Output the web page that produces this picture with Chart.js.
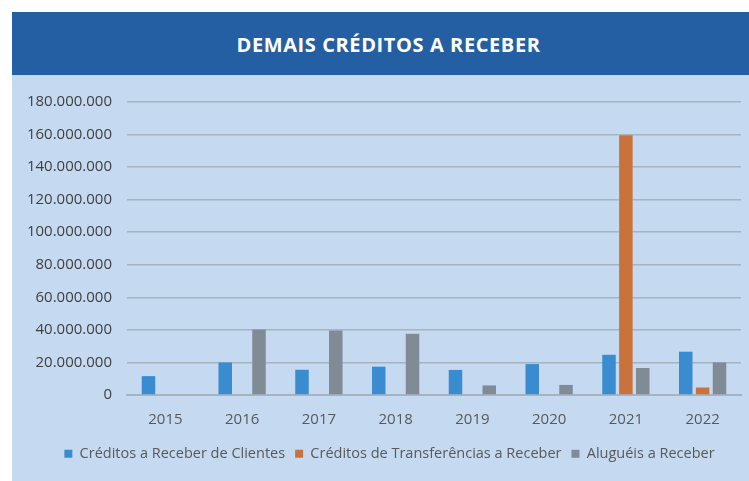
<!DOCTYPE html>
<html>
<head>
<meta charset="utf-8">
<script src="https://cdn.jsdelivr.net/npm/chart.js@4"></script>
<style>
    body { margin: 0; background: #ffffff; }
    #box { position: absolute; left: 12px; top: 12px; width: 737px; height: 469px; background: #c5d9f1; }
    #header { height: 63px; background: #245fa3; color: #ffffff; font-family: "Open Sans", sans-serif;
              font-weight: bold; font-size: 20px; letter-spacing: 0.6px; text-align: center; line-height: 66px;
              padding-left: 16px; }
    #wrap { position: relative; width: 737px; height: 406px; }
</style>
</head>
<body>
<div id="box">
    <div id="header">DEMAIS CRÉDITOS A RECEBER</div>
    <div id="wrap"><canvas id="chart"></canvas></div>
</div>
<script>
const years = ['2015', '2016', '2017', '2018', '2019', '2020', '2021', '2022'];
const clientes = [11600000, 20000000, 15500000, 17400000, 15400000, 19000000, 24700000, 26600000];
const transferencias = [0, 0, 0, 0, 0, 0, 159500000, 4600000];
const alugueis = [0, 40200000, 39700000, 37600000, 5900000, 6200000, 16600000, 20000000];

// brazilian thousands separator
function formatTick(value) {
    return String(value).replace(/\B(?=(\d{3})+(?!\d))/g, '.');
}

var font = { family: '"Open Sans", sans-serif', size: 15 };

// legend sits a bit right of the centre in the original
const shiftLegend = {
    id: 'shiftLegend',
    afterLayout(chart) {
        if (chart.legend) {
            chart.legend.left += 13;
            chart.legend.right += 13;
        }
    }
};

var chart = new Chart(
    document.getElementById('chart'),
    {
        type: 'bar',
        data: {
            labels: years,
            datasets: [
                { label: 'Créditos a Receber de Clientes', data: clientes, backgroundColor: '#3a8cd0' },
                { label: 'Créditos de Transferências a Receber', data: transferencias, backgroundColor: '#c9723c' },
                { label: 'Aluguéis a Receber', data: alugueis, backgroundColor: '#808b96' }
            ]
        },
        options: {
            maintainAspectRatio: false,
            animation: false,
            categoryPercentage: 0.66,
            barPercentage: 0.8,
            layout: { padding: { top: 27, right: 8, bottom: 10, left: 0 } },
            scales: {
                x: {
                    grid: { display: false },
                    border: { color: '#a6b4c2', width: 2 },
                    ticks: { color: '#595959', font: font, padding: 8 },
                    afterFit: (scale) => { scale.height = 41.5; }
                },
                y: {
                    min: 0,
                    max: 180000000,
                    ticks: { stepSize: 20000000, color: '#3f3f3f', font: font, padding: 15,
                             callback: (v) => formatTick(v) },
                    grid: { color: '#a6b4c2', lineWidth: 1.5, drawTicks: false },
                    border: { display: false },
                    afterFit: (scale) => { scale.width = 115; }
                }
            },
            plugins: {
                tooltip: { enabled: false },
                legend: {
                    position: 'bottom',
                    labels: { boxWidth: 8, boxHeight: 8, padding: 10, color: '#595959',
                              font: { family: '"Open Sans", sans-serif', size: 14.5 } }
                }
            }
        },
        plugins: [shiftLegend]
    }
);
</script>
</body>
</html>
